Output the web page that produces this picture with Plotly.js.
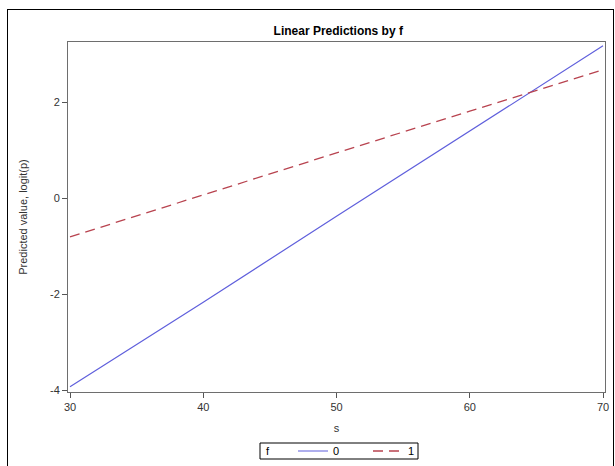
<!DOCTYPE html>
<html>
<head>
<meta charset="utf-8">
<script src="https://cdn.plot.ly/plotly-3.0.1.min.js"></script>
<style>
html,body{margin:0;padding:0;background:#fff;}
#wrap{position:relative;width:615px;height:466px;}
#chart{position:absolute;left:0;top:0;width:615px;height:466px;}
#frame{position:absolute;left:7px;top:9px;width:605px;height:460px;border:1px solid #000;pointer-events:none;}
</style>
</head>
<body>
<div id="wrap"><div id="chart"></div><div id="frame"></div></div>
<script>
var s = [30, 40, 50, 60, 70];
var pred_f0 = [-3.93, -2.17, -0.38, 1.40, 3.17];
var pred_f1 = [-0.81, 0.07, 0.94, 1.81, 2.67];
var groupNames = ['0', '1'];
var legendTitle = 'f';
var xTicks = [30, 40, 50, 60, 70];
var yTicks = [-4, -2, 0, 2];
var yTickText = ['-4', '-2', '0', '2'];

var traces = [
  {x: s, y: pred_f0, name: groupNames[0], mode: 'lines', type: 'scatter',
   line: {color: '#5f5fdc', width: 1.2}},
  {x: s, y: pred_f1, name: groupNames[1], mode: 'lines', type: 'scatter',
   line: {color: '#b8434f', width: 1.3, dash: '10px,6px'}}
];

var axisCommon = {
  showline: true, mirror: true, linecolor: '#6e6e6e', linewidth: 1,
  ticks: 'outside', ticklen: 5, tickcolor: '#555', showgrid: false, zeroline: false,
  automargin: false,
  tickfont: {family: 'Liberation Sans, Arial, sans-serif', size: 11, color: '#333'}
};

// plot area: 68..605 px horizontally, 42..392 px vertically
function px2x(p) { return (p - 68) / 537; }
function py2y(p) { return (392 - p) / 350; }

var layout = {
  width: 615, height: 466,
  margin: {l: 68, r: 10, t: 42, b: 74, autoexpand: false},
  paper_bgcolor: '#fff', plot_bgcolor: '#fff',
  font: {family: 'Liberation Sans, Arial, sans-serif', size: 11, color: '#333'},
  title: {text: '<b>Linear Predictions by f</b>', x: 0.55, xanchor: 'center',
          y: 1 - 31/466, yanchor: 'middle',
          font: {family: 'Liberation Sans, Arial, sans-serif', size: 12, color: '#000'}},
  xaxis: Object.assign({}, axisCommon, {
    range: [29.85, 70.15], tickvals: xTicks,
    title: {text: 's', standoff: 12, font: {size: 11, color: '#333'}}
  }),
  yaxis: Object.assign({}, axisCommon, {
    range: [-4.04, 3.25], tickvals: yTicks, ticktext: yTickText,
    title: {text: 'Predicted value, logit(p)', standoff: 20, font: {size: 11, color: '#333'}}
  }),
  showlegend: true,
  legend: {
    orientation: 'h', x: px2x(293), xanchor: 'left',
    yref: 'container', y: 1 - 451/466, yanchor: 'middle',
    borderwidth: 0, bgcolor: 'rgba(0,0,0,0)',
    font: {size: 11, color: '#000'},
    itemwidth: 30, tracegroupgap: 0, entrywidth: 30
  },
  shapes: [
    {type: 'rect', xref: 'paper', yref: 'paper',
     x0: px2x(260), x1: px2x(418), y0: py2y(443), y1: py2y(459),
     line: {color: '#000', width: 1}, fillcolor: 'rgba(0,0,0,0)'}
  ],
  annotations: [
    {text: legendTitle, xref: 'paper', yref: 'paper', x: px2x(264), y: py2y(451),
     xanchor: 'left', yanchor: 'middle', showarrow: false,
     font: {size: 11, color: '#000'}}
  ]
};

Plotly.newPlot('chart', traces, layout, {displayModeBar: false, staticPlot: true});
</script>
</body>
</html>
